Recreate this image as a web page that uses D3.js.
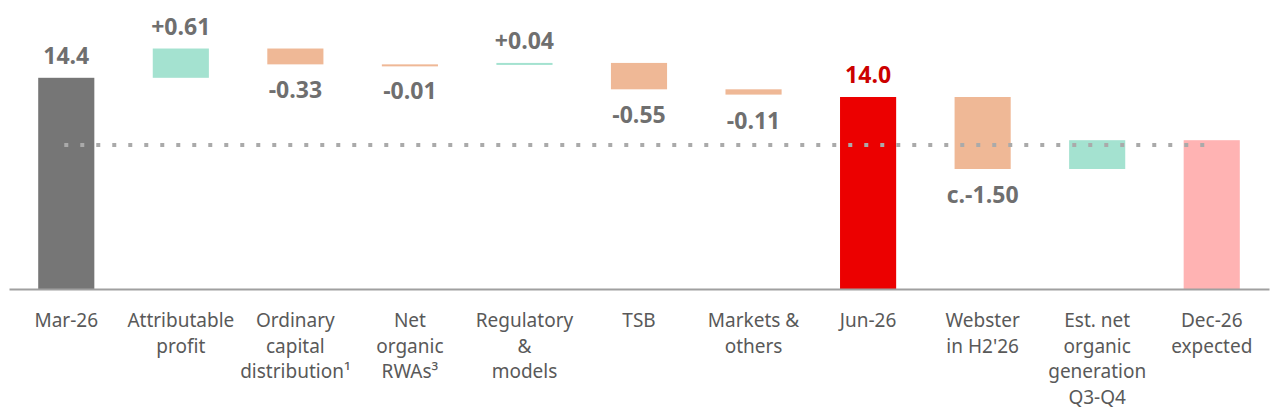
<!DOCTYPE html>
<html>
<head>
<meta charset="utf-8">
<script src="https://cdn.jsdelivr.net/npm/d3@7"></script>
<style>
  body { margin: 0; background: #fff; }
  svg { display: block; font-family: "Noto Sans", "Open Sans", sans-serif; }
</style>
</head>
<body>
<div id="chart"></div>
<script>
// CET1 walk, %
var categories = [
  ["Mar-26"],
  ["Attributable", "profit"],
  ["Ordinary", "capital", "distribution\u00b9"],
  ["Net", "organic", "RWAs\u00b3"],
  ["Regulatory", "&", "models"],
  ["TSB"],
  ["Markets &", "others"],
  ["Jun-26"],
  ["Webster", "in H2'26"],
  ["Est. net", "organic", "generation", "Q3-Q4"],
  ["Dec-26", "expected"]
];
var kinds = ["start", "delta", "delta", "delta", "delta", "delta", "delta", "current", "delta", "delta", "expected"];
var values = [14.4, 0.61, -0.33, -0.01, 0.04, -0.55, -0.11, 14.0, -1.50, 0.60, 13.1];
var valueLabels = ["14.4", "+0.61", "-0.33", "-0.01", "+0.04", "-0.55", "-0.11", "14.0", "c.-1.50", "", ""];
var target = 13.0;

var width = 1276, height = 414;
var baseY = 289;

var svg = d3.select("#chart").append("svg")
    .attr("width", width)
    .attr("height", height);

var x = d3.scaleBand()
    .domain(d3.range(categories.length))
    .range([9, 1269])
    .paddingInner(0.51)
    .paddingOuter(0.255);

var y = d3.scaleLinear()
    .domain([10, 15.5])
    .range([baseY, baseY - 5.5 * 48]);

// running totals for the floating bars
var running = 0;
var bars = values.map(function (v, i) {
  var k = kinds[i], lo, hi;
  if (k === "delta") {
    lo = Math.min(running, running + v);
    hi = Math.max(running, running + v);
    running += v;
  } else {
    lo = 10; hi = v; running = v;
  }
  return { i: i, kind: k, v: v, lo: lo, hi: hi, label: valueLabels[i] };
});

function colour(d) {
  if (d.kind === "start") return "#767676";
  if (d.kind === "current") return "#ec0000";
  if (d.kind === "expected") return "#ffb3b3";
  return d.v >= 0 ? "#a4e2d0" : "#efb896";
}

svg.append("g").selectAll("rect")
  .data(bars)
  .enter().append("rect")
    .attr("x", function (d) { return x(d.i); })
    .attr("width", x.bandwidth())
    .attr("y", function (d) { return y(d.hi); })
    .attr("height", function (d) { return Math.max(2, y(d.lo) - y(d.hi)); })
    .attr("fill", colour);

// axis line + category labels
var axis = svg.append("g")
    .attr("transform", "translate(0," + baseY + ")")
    .call(d3.axisBottom(x).tickSize(0).tickFormat(""));
axis.select(".domain").attr("stroke", "#a0a0a0").attr("stroke-width", 2);

axis.selectAll(".tick text").remove();
axis.selectAll(".tick").append("text")
    .attr("fill", "#595959")
    .attr("font-family", "'Noto Sans', sans-serif")
    .attr("font-size", 19)
    .attr("text-anchor", "middle")
    .attr("y", 38)
  .selectAll("tspan")
  .data(function (d) { return categories[d]; })
  .enter().append("tspan")
    .attr("x", 0)
    .attr("dy", function (d, j) { return j === 0 ? 0 : 25.5; })
    .text(function (d) { return d; });

// target dotted line
svg.append("line")
    .attr("x1", x(0) + x.bandwidth() / 2 - 2)
    .attr("x2", x(categories.length - 1) + x.bandwidth() / 2 - 4)
    .attr("y1", y(target))
    .attr("y2", y(target))
    .attr("stroke", "#aaaaaa")
    .attr("stroke-width", 4)
    .attr("stroke-dasharray", "4 12");

// value labels
svg.append("g").selectAll("text")
  .data(bars.filter(function (d) { return d.label !== ""; }))
  .enter().append("text")
    .attr("x", function (d) { return x(d.i) + x.bandwidth() / 2; })
    .attr("y", function (d) {
      if (d.kind === "delta" && d.v < 0) {
        return y(d.lo) + 34;
      }
      return y(d.hi) - 14;
    })
    .attr("text-anchor", "middle")
    .attr("font-family", "'Open Sans', sans-serif")
    .attr("font-size", 23)
    .attr("font-weight", "bold")
    .attr("fill", function (d) { return d.kind === "current" ? "#cc0000" : "#6f6f6f"; })
    .text(function (d) { return d.label; });
</script>
</body>
</html>
